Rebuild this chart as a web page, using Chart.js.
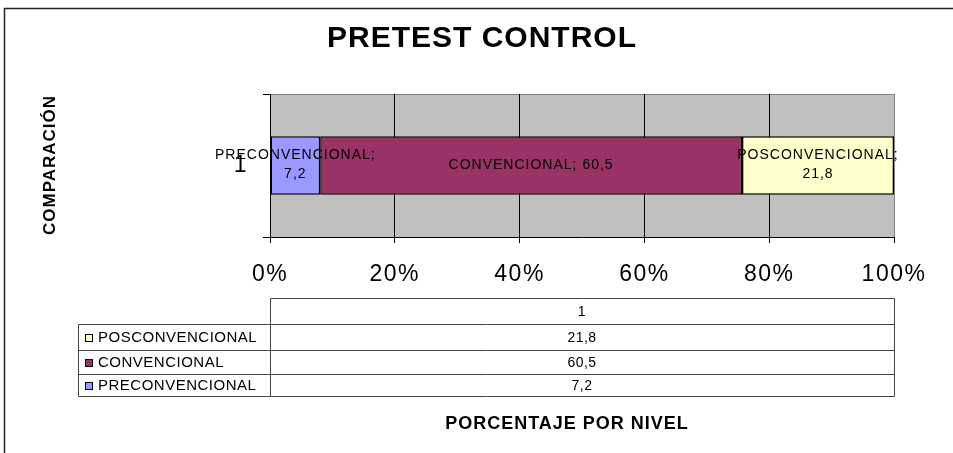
<!DOCTYPE html>
<html>
<head>
<meta charset="utf-8">
<style>
  html, body { margin: 0; padding: 0; background: #ffffff; overflow: hidden; }
  #wrap { width: 953px; height: 453px; position: relative; }
</style>
<script src="https://cdn.jsdelivr.net/npm/chart.js@4.4.1/dist/chart.umd.min.js"></script>
</head>
<body>
<div id="wrap"><canvas id="chart" width="953" height="453"></canvas></div>
<script>
// Chart data
const categories = ['1'];
const seriesNames = ['PRECONVENCIONAL', 'CONVENCIONAL', 'POSCONVENCIONAL'];
const preconvencional = [7.2];
const convencional = [60.5];
const posconvencional = [21.8];
const xTickValues = [0, 20, 40, 60, 80, 100];

const chartTitle = 'PRETEST CONTROL';
const yAxisTitle = 'COMPARACIÓN';
const xAxisTitle = 'PORCENTAJE POR NIVEL';

const seriesValues = [preconvencional, convencional, posconvencional];
const seriesColors = ['#9999FF', '#993366', '#FFFFCC'];
const FONT = '"Liberation Sans", Arial, Helvetica, sans-serif';

// 100% stacked: each series as share of the category total
const totals = categories.map((_, i) => seriesValues.reduce((s, arr) => s + arr[i], 0));
const toPercent = arr => arr.map((v, i) => v / totals[i] * 100);
const fmt = v => String(v).replace('.', ',');

const datasets = seriesNames.map((name, d) => ({
  label: name,
  data: toPercent(seriesValues[d]),
  rawValues: seriesValues[d],
  backgroundColor: seriesColors[d],
  borderColor: '#000000',
  borderWidth: 1.5,
  borderSkipped: false,
  categoryPercentage: 1,
  barPercentage: 0.41
}));

const decorPlugin = {
  id: 'decor',
  beforeDraw(chart) {
    const ctx = chart.ctx;
    const a = chart.chartArea;
    ctx.save();
    // plot background
    ctx.fillStyle = '#C0C0C0';
    ctx.fillRect(a.left, a.top, a.right - a.left, a.bottom - a.top);
    ctx.strokeStyle = '#808080';
    ctx.lineWidth = 1;
    ctx.beginPath();
    ctx.moveTo(a.left, a.top + 0.5);
    ctx.lineTo(a.right + 0.5, a.top + 0.5);
    ctx.lineTo(a.right + 0.5, a.bottom);
    ctx.stroke();
    // outer frame
    ctx.strokeStyle = '#222222';
    ctx.lineWidth = 1.5;
    ctx.beginPath();
    ctx.moveTo(953, 8.5);
    ctx.lineTo(4.5, 8.5);
    ctx.lineTo(4.5, 453);
    ctx.stroke();
    ctx.restore();
    ctx.letterSpacing = '1.5px';
  },
  afterDatasetsDraw(chart) {
    const ctx = chart.ctx;
    ctx.save();
    ctx.letterSpacing = '1px';
    ctx.font = '14px ' + FONT;
    ctx.fillStyle = '#000000';
    ctx.textAlign = 'center';
    ctx.textBaseline = 'middle';
    chart.data.datasets.forEach((ds, d) => {
      const meta = chart.getDatasetMeta(d);
      meta.data.forEach((el, i) => {
        const p = el.getProps(['x', 'base', 'y'], true);
        const cx = (p.x + p.base) / 2;
        const w = Math.abs(p.x - p.base);
        const one = ds.label + '; ' + fmt(ds.rawValues[i]);
        if (ctx.measureText(one).width <= w) {
          ctx.fillText(one, cx, p.y);
        } else {
          ctx.fillText(ds.label + ';', cx, p.y - 10);
          ctx.fillText(fmt(ds.rawValues[i]), cx, p.y + 9);
        }
      });
    });
    ctx.restore();
  },
  afterDraw(chart) {
    const ctx = chart.ctx;
    const a = chart.chartArea;
    ctx.save();
    ctx.letterSpacing = '0px';
    ctx.fillStyle = '#000000';

    // title
    ctx.letterSpacing = '1px';
    ctx.font = 'bold 30px ' + FONT;
    ctx.textAlign = 'center';
    ctx.textBaseline = 'middle';
    ctx.fillText(chartTitle, 482, 39);

    // y axis title
    ctx.save();
    ctx.translate(50, 165);
    ctx.rotate(-Math.PI / 2);
    ctx.font = 'bold 17px ' + FONT;
    ctx.fillText(yAxisTitle, 0, 0);
    ctx.restore();

    // x axis title
    ctx.letterSpacing = '1px';
    ctx.font = 'bold 18px ' + FONT;
    ctx.fillText(xAxisTitle, 567, 424);

    // data table
    const tl = 78, cl = a.left, cr = a.right;
    const rowTops = [298, 324, 350, 374, 396];
    ctx.strokeStyle = '#444444';
    ctx.lineWidth = 1;
    ctx.beginPath();
    ctx.moveTo(cl + 0.5, rowTops[0] + 0.5); ctx.lineTo(cr + 0.5, rowTops[0] + 0.5);
    for (let r = 1; r < rowTops.length; r++) {
      ctx.moveTo(tl + 0.5, rowTops[r] + 0.5); ctx.lineTo(cr + 0.5, rowTops[r] + 0.5);
    }
    ctx.moveTo(tl + 0.5, rowTops[1] + 0.5); ctx.lineTo(tl + 0.5, rowTops[4] + 0.5);
    ctx.moveTo(cl + 0.5, rowTops[0] + 0.5); ctx.lineTo(cl + 0.5, rowTops[4] + 0.5);
    ctx.moveTo(cr + 0.5, rowTops[0] + 0.5); ctx.lineTo(cr + 0.5, rowTops[4] + 0.5);
    ctx.stroke();

    const mid = (cl + cr) / 2;
    ctx.letterSpacing = '0.5px';
    ctx.font = '14px ' + FONT;
    ctx.textAlign = 'center';
    ctx.fillText(categories[0], mid, (rowTops[0] + rowTops[1]) / 2 + 1);

    const order = [2, 1, 0];
    order.forEach((d, r) => {
      const cy = (rowTops[r + 1] + rowTops[r + 2]) / 2 + 1;
      // legend key
      ctx.fillStyle = seriesColors[d];
      ctx.fillRect(85, Math.round(cy) - 4, 8, 8);
      ctx.strokeStyle = '#000000';
      ctx.strokeRect(85.5, Math.round(cy) - 3.5, 7, 7);
      ctx.fillStyle = '#000000';
      ctx.textAlign = 'left';
      ctx.font = '15px ' + FONT;
      ctx.fillText(seriesNames[d], 98, cy);
      ctx.textAlign = 'center';
      ctx.font = '14px ' + FONT;
      ctx.fillText(fmt(seriesValues[d][0]), mid, cy);
    });
    ctx.restore();
    ctx.letterSpacing = '0px';
  }
};

new Chart(document.getElementById('chart'), {
  type: 'bar',
  data: { labels: categories, datasets },
  options: {
    indexAxis: 'y',
    responsive: false,
    animation: false,
    devicePixelRatio: 1,
    layout: { padding: { left: 0, right: 59, top: 94, bottom: 156 } },
    plugins: { legend: { display: false }, title: { display: false }, tooltip: { enabled: false } },
    scales: {
      x: {
        type: 'linear',
        stacked: true,
        min: 0,
        max: 100,
        afterBuildTicks: s => { s.ticks = xTickValues.map(v => ({ value: v })); },
        afterFit: s => { s.height = 60; },
        ticks: {
          callback: v => v + '%',
          font: { family: FONT, size: 23 },
          color: '#000000',
          padding: 18,
          maxRotation: 0,
          autoSkip: false
        },
        grid: {
          color: c => (c.tick && c.tick.value === 100) ? '#808080' : '#000000',
          tickColor: '#000000',
          tickLength: 6,
          lineWidth: 1
        },
        border: { color: '#000000', width: 1 }
      },
      y: {
        type: 'category',
        stacked: true,
        offset: true,
        afterFit: s => { s.width = 270; },
        ticks: {
          font: { family: FONT, size: 23 },
          color: '#000000',
          padding: 15
        },
        grid: {
          offset: true,
          drawOnChartArea: false,
          tickLength: 7,
          color: '#000000'
        },
        border: { color: '#000000', width: 1 }
      }
    }
  },
  plugins: [decorPlugin]
});
</script>
</body>
</html>
